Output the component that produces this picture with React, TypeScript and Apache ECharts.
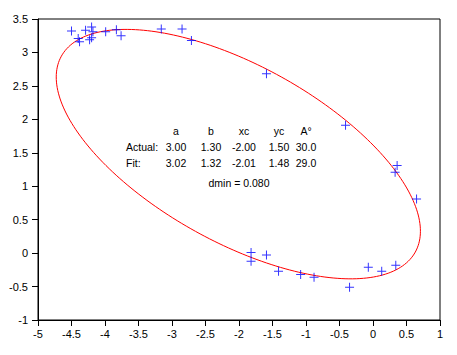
import React, { useEffect, useRef } from "react";
import * as echarts from "echarts";

// Noisy data points (x, y)
const pointsX = [
  -4.5, -4.4, -4.38, -4.29, -4.2, -4.18, -4.23, -4.2, -3.99, -3.83, -3.76,
  -3.16, -2.85, -2.71, -1.59, -0.41, 0.36, 0.33, 0.65, 0.34, 0.13, -0.07,
  -0.35, -1.82, -1.82, -1.59, -1.41, -1.08, -0.88,
];
const pointsY = [
  3.32, 3.21, 3.16, 3.33, 3.38, 3.31, 3.19, 3.22, 3.31, 3.34, 3.25,
  3.35, 3.35, 3.18, 2.68, 1.91, 1.31, 1.21, 0.81, -0.18, -0.27, -0.21,
  -0.51, 0.01, -0.12, -0.03, -0.27, -0.32, -0.36,
];

// Table of ellipse parameters
const paramNames = ["a", "b", "xc", "yc", "A°"];
const actualVals = ["3.00", "1.30", "-2.00", "1.50", "30.0"];
const fitVals = ["3.02", "1.32", "-2.01", "1.48", "29.0"];
const dminText = "dmin = 0.080";

// Fitted ellipse parameters: a, b, xc, yc, angle (deg, measured clockwise)
const fitA = 3.02;
const fitB = 1.32;
const fitXc = -2.01;
const fitYc = 1.48;
const fitAngle = 29.0;

const xTickMin = -5;
const xTickMax = 1;
const yTickMin = -1;
const yTickMax = 3.5;

function ellipsePoints(): number[][] {
  const pts: number[][] = [];
  const th = (-fitAngle * Math.PI) / 180;
  const n = 240;
  for (let i = 0; i <= n; i++) {
    const t = (2 * Math.PI * i) / n;
    const ex = fitA * Math.cos(t);
    const ey = fitB * Math.sin(t);
    pts.push([
      fitXc + ex * Math.cos(th) - ey * Math.sin(th),
      fitYc + ex * Math.sin(th) + ey * Math.cos(th),
    ]);
  }
  return pts;
}

const FONT = "'Liberation Sans', Arial, sans-serif";

export default function App() {
  const ref = useRef<HTMLDivElement>(null);
  useEffect(() => {
    if (!ref.current) return;
    const chart = echarts.init(ref.current, undefined, { renderer: "svg" });
    const colX = [176, 211, 244, 279, 306];
    const graphics: any[] = [];
    const txt = (text: string, x: number, y: number, align: string) => ({
      type: "text",
      x,
      y,
      style: { text, fill: "#000", font: `10.5px ${FONT}`, textAlign: align, textVerticalAlign: "middle" },
    });
    paramNames.forEach((p, i) => {
      graphics.push(txt(p, colX[i], 131, "center"));
      graphics.push(txt(actualVals[i], colX[i], 147, "center"));
      graphics.push(txt(fitVals[i], colX[i], 163, "center"));
    });
    graphics.push(txt("Actual:", 126, 147, "left"));
    graphics.push(txt("Fit:", 126, 163, "left"));
    graphics.push(txt(dminText, 239, 183, "center"));

    const axisCommon = {
      axisLine: { show: true, onZero: false, lineStyle: { color: "#000", width: 1 } },
      axisTick: { show: true, inside: false, length: 6, lineStyle: { color: "#000" } },
      splitLine: { show: false },
      axisLabel: { color: "#000", fontSize: 11, fontFamily: FONT },
    };

    chart.setOption({
      animation: false,
      backgroundColor: "#fff",
      grid: {
        left: 38, right: 17, top: 19, bottom: 35,
        show: true, borderColor: "#000", borderWidth: 1, containLabel: false,
      },
      xAxis: {
        type: "value", min: xTickMin, max: xTickMax, interval: 0.5,
        ...axisCommon,
        axisLabel: { ...axisCommon.axisLabel, margin: 8 },
      },
      yAxis: {
        type: "value", min: yTickMin, max: yTickMax, interval: 0.5,
        ...axisCommon,
        axisLabel: { ...axisCommon.axisLabel, margin: 10 },
      },
      series: [
        {
          type: "line",
          data: ellipsePoints(),
          showSymbol: false,
          lineStyle: { color: "#ff0000", width: 1 },
          silent: true,
          z: 2,
        },
        {
          type: "scatter",
          data: pointsX.map((x, i) => [x, pointsY[i]]),
          symbol: "path://M4,0H5V4H9V5H5V9H4V5H0V4H4Z",
          symbolSize: 9,
          itemStyle: { color: "#0000ff" },
          z: 3,
        },
      ],
      graphic: graphics,
    });
    return () => chart.dispose();
  }, []);
  return (
    <div
      ref={ref}
      style={{ position: "absolute", left: 0, top: 0, width: 457, height: 355 }}
    />
  );
}
